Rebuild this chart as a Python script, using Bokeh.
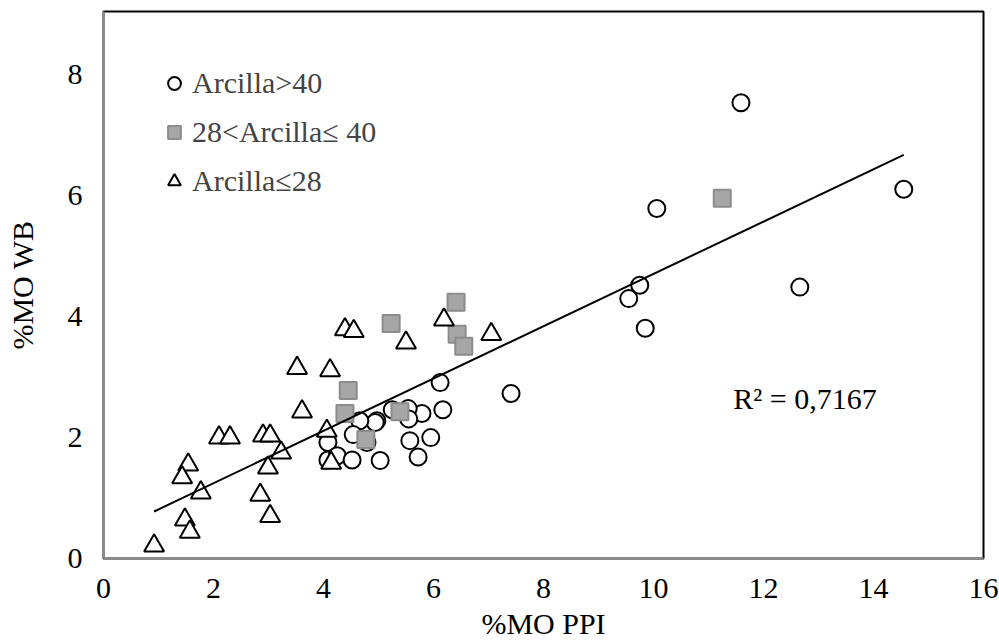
import numpy as np
from bokeh.plotting import figure
from bokeh.models import FixedTicker, Label, Legend, LegendItem
from bokeh.embed import file_html
from bokeh.resources import INLINE

# Arcilla>40 (circles)
c_x = [11.59, 14.55, 10.06, 9.75, 9.55, 9.85, 12.66, 7.41, 6.12, 6.17, 5.79, 5.54, 5.55,
       5.25, 4.97, 4.94, 4.66, 4.54, 4.08, 4.79, 5.57, 5.95, 4.08, 4.25, 4.52, 5.03, 5.72]
c_y = [7.54, 6.11, 5.79, 4.52, 4.30, 3.81, 4.49, 2.73, 2.91, 2.46, 2.40, 2.48, 2.31,
       2.46, 2.28, 2.25, 2.28, 2.05, 1.92, 1.92, 1.95, 2.00, 1.63, 1.70, 1.63, 1.62, 1.68]

# 28<Arcilla<=40 (squares)
s_x = [6.41, 5.23, 6.43, 6.55, 4.45, 4.39, 5.39, 4.77, 11.25]
s_y = [4.24, 3.89, 3.71, 3.51, 2.78, 2.40, 2.43, 1.97, 5.96]

# Arcilla<=28 (triangles)
t_x = [6.19, 7.05, 5.50, 4.39, 4.55, 3.52, 4.12, 3.61, 4.06, 4.14, 2.10, 2.30, 2.90, 3.03,
       3.23, 2.99, 1.54, 1.43, 1.77, 2.85, 3.03, 1.48, 1.57, 0.92]
t_y = [3.95, 3.71, 3.57, 3.79, 3.76, 3.15, 3.11, 2.43, 2.11, 1.58, 2.00, 2.00, 2.03, 2.03,
       1.75, 1.50, 1.55, 1.34, 1.09, 1.05, 0.70, 0.64, 0.44, 0.21]

labels = ["Arcilla>40", "28<Arcilla\u2264 40", "Arcilla\u226428"]
r2_text = "R\u00b2 = 0,7167"
x_ticks = [0, 2, 4, 6, 8, 10, 12, 14, 16]
y_ticks = [0, 2, 4, 6, 8]

# linear trend line fitted on all points
all_x = np.array(c_x + s_x + t_x)
all_y = np.array(c_y + s_y + t_y)
slope, intercept = np.polyfit(all_x, all_y, 1)
line_x = [all_x.min(), all_x.max()]
line_y = [slope * v + intercept for v in line_x]

FONT = "Liberation Serif"
FS = "30px"

p = figure(frame_width=880, frame_height=547, width=999, height=640,
           x_range=(0, 16), y_range=(0, 9.05),
           output_backend="svg", toolbar_location=None,
           min_border_left=103, min_border_right=16, min_border_top=11, min_border_bottom=82)
p.xgrid.visible = False
p.ygrid.visible = False
p.outline_line_color = "black"
p.outline_line_width = 2
p.background_fill_color = "white"
p.border_fill_color = "white"

r_c = p.scatter(c_x, c_y, marker="circle", size=17, fill_color="white",
                line_color="black", line_width=2)
r_s = p.scatter(s_x, s_y, marker="square", size=17, fill_color="#a6a6a6",
                line_color="#8c8c8c", line_width=2)
r_t = p.scatter(t_x, t_y, marker="triangle", size=20, fill_color="white",
                line_color="black", line_width=2)
p.line(line_x, line_y, line_color="black", line_width=2)

for ax in (p.xaxis[0], p.yaxis[0]):
    ax.major_tick_line_color = None
    ax.minor_tick_line_color = None
    ax.major_tick_out = 0
    ax.major_tick_in = 0
    ax.axis_line_color = "#8c8c8c"
    ax.axis_line_width = 2.5
    ax.major_label_text_font = FONT
    ax.major_label_text_font_size = FS
    ax.major_label_text_color = "black"
    ax.axis_label_text_font = FONT
    ax.axis_label_text_font_size = FS
    ax.axis_label_text_font_style = "normal"
    ax.axis_label_text_color = "black"

p.xaxis.ticker = FixedTicker(ticks=x_ticks)
p.yaxis.ticker = FixedTicker(ticks=y_ticks)
p.xaxis.axis_label = "%MO PPI"
p.yaxis.axis_label = "%MO WB"
p.xaxis.major_label_standoff = 20
p.xaxis.axis_label_standoff = 6
p.yaxis.major_label_standoff = 21
p.yaxis.axis_label_standoff = 26

legend = Legend(items=[LegendItem(label=labels[0], renderers=[r_c]),
                       LegendItem(label=labels[1], renderers=[r_s]),
                       LegendItem(label=labels[2], renderers=[r_t])],
                location="top_left", margin=55, padding=0,
                glyph_width=32, glyph_height=32, label_height=32, spacing=15,
                label_standoff=2, label_text_font=FONT, label_text_font_size=FS,
                background_fill_alpha=0, border_line_alpha=0)
p.add_layout(legend, "center")

p.add_layout(Label(x=11.45, y=2.65, text=r2_text, text_font=FONT, text_font_size=FS,
                   text_baseline="middle", text_align="left", text_color="black"))

open("out.html", "w").write(file_html(p, INLINE))
